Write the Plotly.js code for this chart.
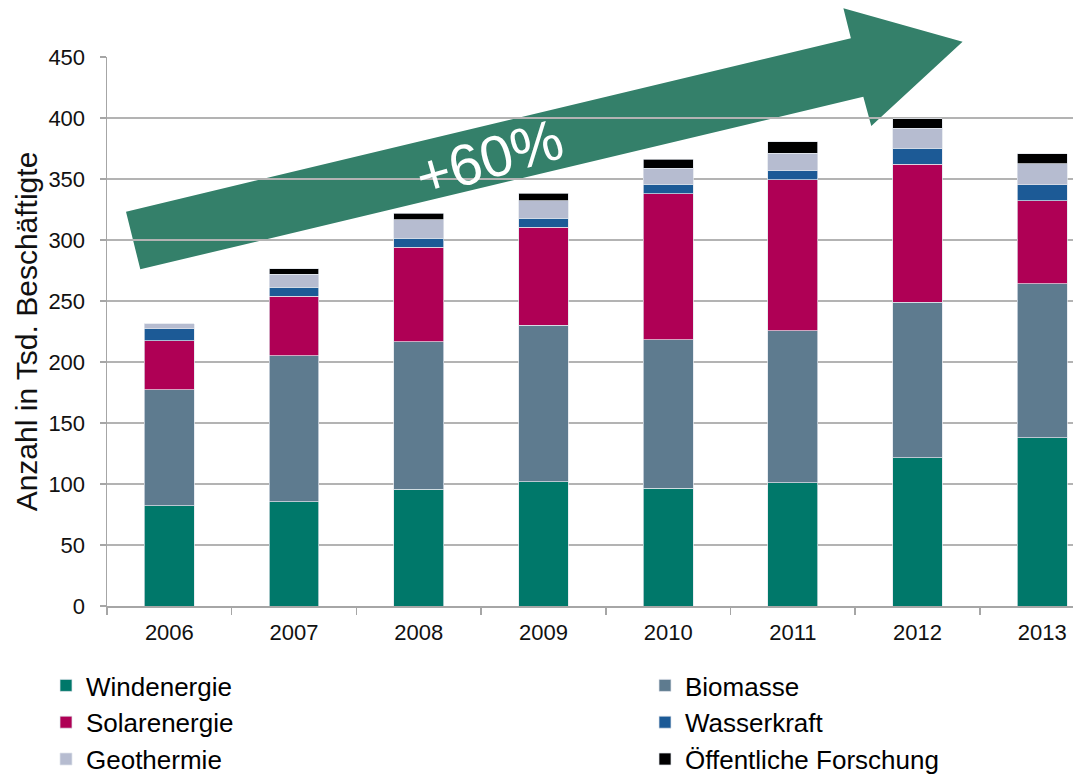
<!DOCTYPE html>
<html>
<head>
<meta charset="utf-8">
<script src="https://cdn.plot.ly/plotly-3.0.1.min.js"></script>
<style>html,body{margin:0;padding:0;background:#fff;}#chart{width:1073px;height:777px;}</style>
</head>
<body>
<div id="chart"></div>
<script>
// ---- data (Tsd. Beschäftigte) ----
const years = ['2006','2007','2008','2009','2010','2011','2012','2013'];
const windenergie = [82, 85.5, 95.5, 102, 96.5, 101, 121.5, 137.8];
const biomasse    = [95.4, 119.5, 121.3, 128.2, 121.7, 124.8, 127.6, 126.4];
const solarenergie= [40.2, 48.7, 77.2, 80.1, 119.7, 123.6, 113.1, 67.8];
const wasserkraft = [9.6, 7.7, 7.5, 7.7, 7.6, 7.6, 12.9, 13.1];
const geothermie  = [4.2, 10.6, 15.1, 14.3, 13.5, 14.3, 16.4, 17.2];
const forschung   = [null, 4.6, 5.4, 6.1, 7.3, 9.2, 7.9, 8.5];
const seriesNames = ['Windenergie','Biomasse','Solarenergie','Wasserkraft','Geothermie','Öffentliche Forschung'];
const seriesColors = ['#00786a','#5e7b8f','#af0055','#1c5a96','#b6bcd0','#000000'];
const seriesLegend = ['legend','legend2','legend','legend2','legend','legend2'];
const seriesValues = [windenergie, biomasse, solarenergie, wasserkraft, geothermie, forschung];

// ---- layout geometry ----
const W = 1073, H = 777;
const M = {l: 107, r: 0, t: 57, b: 171, autoexpand: false};
const pw = W - M.l - M.r, ph = H - M.t - M.b;
const px2x = p => (p - M.l) / pw;
const py2y = p => (H - M.b - p) / ph;

const traces = seriesNames.map((n, i) => ({
  type: 'bar', name: n, x: years, y: seriesValues[i],
  marker: {color: seriesColors[i], line: {color: 'rgba(225,228,236,0.9)', width: 0.8}},
  legend: seriesLegend[i], hoverinfo: 'skip'
}));

// arrow outline (pixel positions of the decorative arrow)
const arrowPx = [[126,211.7],[850.9,38.3],[843.4,8.3],[962.6,41.7],[871.3,126],[863.3,96.7],[140.3,269.3]];
const arrowPath = 'M' + arrowPx.map(p => px2x(p[0]).toFixed(5) + ',' + py2y(p[1]).toFixed(5)).join(' L') + ' Z';

const font = 'Liberation Sans, Arial, sans-serif';
const legendCommon = {
  orientation: 'v', traceorder: 'normal', xanchor: 'left', yanchor: 'top',
  font: {size: 26, color: '#000', family: font}, bgcolor: 'rgba(0,0,0,0)', tracegroupgap: 0, itemwidth: 30
};
const layout = {
  width: W, height: H,
  margin: M,
  paper_bgcolor: '#fff', plot_bgcolor: '#fff',
  barmode: 'stack', bargap: 0.6,
  font: {family: font, color: '#111'},
  xaxis: {
    type: 'category', range: [-0.5, -0.5 + pw / 124.7],
    showline: true, linecolor: '#a6a6a6', linewidth: 1.5,
    ticks: 'outside', tickson: 'boundaries', ticklen: 7, tickcolor: '#a6a6a6', tickwidth: 1.5,
    tickfont: {size: 22, color: '#111', family: font}, ticklabelstandoff: 6,
    showgrid: false, fixedrange: true
  },
  yaxis: {
    range: [0, 450], dtick: 50,
    showline: true, linecolor: '#a6a6a6', linewidth: 1.5,
    ticks: 'outside', ticklen: 6, tickcolor: '#a6a6a6', tickwidth: 1.5,
    gridcolor: '#b3b3b3', gridwidth: 1.5,
    tickfont: {size: 22, color: '#111', family: font}, ticklabelstandoff: 10,
    title: {text: 'Anzahl in Tsd. Beschäftigte', font: {size: 30, color: '#111', family: font}, standoff: 2},
    zeroline: false, fixedrange: true
  },
  legend: Object.assign({}, legendCommon, {x: px2x(46), y: py2y(662)}),
  legend2: Object.assign({}, legendCommon, {x: px2x(645), y: py2y(662)}),
  shapes: [{
    type: 'path', xref: 'paper', yref: 'paper', path: arrowPath,
    fillcolor: '#34806a', line: {width: 0}, layer: 'between'
  }],
  annotations: [{
    xref: 'paper', yref: 'paper', x: px2x(489), y: py2y(157), xanchor: 'center', yanchor: 'middle',
    text: '+60%', showarrow: false, textangle: -16,
    font: {size: 58, color: '#ffffff', family: font}
  }]
};

Plotly.newPlot('chart', traces, layout, {staticPlot: true, displayModeBar: false});
</script>
</body>
</html>
